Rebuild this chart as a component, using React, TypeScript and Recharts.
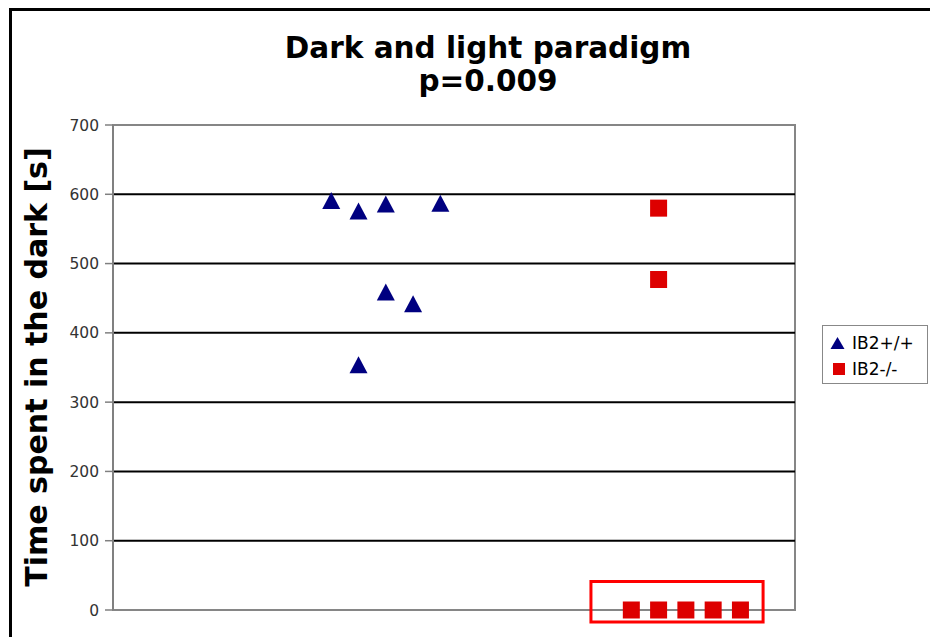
import React from "react";
import {
  ScatterChart,
  Scatter,
  XAxis,
  YAxis,
  ReferenceLine,
  ReferenceArea,
  Customized,
} from "recharts";

// Animal slot along the x axis and time spent in the dark compartment (s)
const wildTypeSlot = [8, 9, 10, 12, 10, 11, 9];
const wildTypeTime = [591, 576, 586, 587, 459, 442, 354];
const knockoutSlot = [20, 20, 19, 20, 21, 22, 23];
const knockoutTime = [580, 477, 0, 0, 0, 0, 0];

const yTicks = [0, 100, 200, 300, 400, 500, 600, 700];
const gridValues = [100, 200, 300, 400, 500, 600];
const seriesNames = ["IB2+/+", "IB2-/-"];
const titleLines = ["Dark and light paradigm", "p=0.009"];
const yLabel = "Time spent in the dark [s]";

const wildTypeData = wildTypeSlot.map((x, i) => ({ x, y: wildTypeTime[i] }));
const knockoutData = knockoutSlot.map((x, i) => ({ x, y: knockoutTime[i] }));

const FONT = "Verdana, 'DejaVu Sans', sans-serif";
const BLUE = "#000080";
const RED = "#dd0000";

const Triangle = (props: any) => {
  const { cx, cy } = props;
  if (cx == null || cy == null) return null;
  const w = 9;
  const h = 8.5;
  return (
    <polygon
      points={`${cx},${cy - h} ${cx + w},${cy + h} ${cx - w},${cy + h}`}
      fill={BLUE}
    />
  );
};

const Square = (props: any) => {
  const { cx, cy } = props;
  if (cx == null || cy == null) return null;
  const s = 8.5;
  return <rect x={cx - s} y={cy - s} width={s * 2} height={s * 2} fill={RED} />;
};

const Titles = () => (
  <g fontFamily={FONT} fontWeight="bold" fill="#000">
    <text x={488} y={58} textAnchor="middle" fontSize={29.5}>
      {titleLines[0]}
    </text>
    <text x={488} y={91} textAnchor="middle" fontSize={29.5}>
      {titleLines[1]}
    </text>
    <text
      x={47}
      y={367}
      transform="rotate(-90 47 367)"
      textAnchor="middle"
      fontSize={30}
    >
      {yLabel}
    </text>
  </g>
);

const LegendBox = () => (
  <div
    style={{
      position: "absolute",
      left: 822,
      top: 325,
      width: 106,
      height: 59,
      border: "1px solid #888",
      background: "#fff",
      boxSizing: "border-box",
      fontFamily: FONT,
      fontSize: 17,
      color: "#000",
      padding: "4px 0 0 7px",
    }}
  >
    <div style={{ display: "flex", alignItems: "center", height: 26 }}>
      <svg width={15} height={14} style={{ marginRight: 7 }}>
        <polygon points="7.5,1 14.5,13 0.5,13" fill={BLUE} />
      </svg>
      <span>{seriesNames[0]}</span>
    </div>
    <div style={{ display: "flex", alignItems: "center", height: 26 }}>
      <svg width={15} height={14} style={{ marginRight: 7 }}>
        <rect x={3} y={1} width={12} height={12} fill={RED} />
      </svg>
      <span>{seriesNames[1]}</span>
    </div>
  </div>
);

export default function App() {
  return (
    <div
      style={{
        position: "absolute",
        left: 0,
        top: 0,
        width: 930,
        height: 637,
        overflow: "hidden",
        background: "#fff",
      }}
    >
      <div
        style={{
          position: "absolute",
          left: 9,
          top: 8,
          width: 1000,
          height: 1000,
          borderTop: "3px solid #000",
          borderLeft: "3px solid #000",
        }}
      />
      <div style={{ position: "absolute", left: 0, top: 0 }}>
        <ScatterChart
          width={930}
          height={637}
          margin={{ top: 125, right: 135, bottom: 27, left: 0 }}
        >
          <XAxis type="number" dataKey="x" domain={[0, 25]} hide />
          <YAxis
            type="number"
            dataKey="y"
            domain={[0, 700]}
            ticks={yTicks}
            width={113}
            interval={0}
            tickSize={8}
            tickMargin={6}
            axisLine={{ stroke: "#808080", strokeWidth: 2 }}
            tickLine={{ stroke: "#808080", strokeWidth: 1.5 }}
            tick={{ fontFamily: FONT, fontSize: 15.5, fill: "#333" }}
          />
          {gridValues.map((v) => (
            <ReferenceLine key={v} y={v} stroke="#000" strokeWidth={2} />
          ))}
          <ReferenceArea
            x1={0}
            x2={25}
            y1={0}
            y2={700}
            fill="none"
            stroke="#868686"
            strokeWidth={2}
          />
          <ReferenceArea
            x1={17.52}
            x2={23.83}
            y1={-17.3}
            y2={41}
            ifOverflow="visible"
            fill="none"
            stroke="#ff0000"
            strokeWidth={3}
          />
          <Scatter
            name={seriesNames[0]}
            data={wildTypeData}
            shape={Triangle}
            isAnimationActive={false}
          />
          <Scatter
            name={seriesNames[1]}
            data={knockoutData}
            shape={Square}
            isAnimationActive={false}
          />
          <Customized component={Titles} />
        </ScatterChart>
      </div>
      <LegendBox />
    </div>
  );
}
